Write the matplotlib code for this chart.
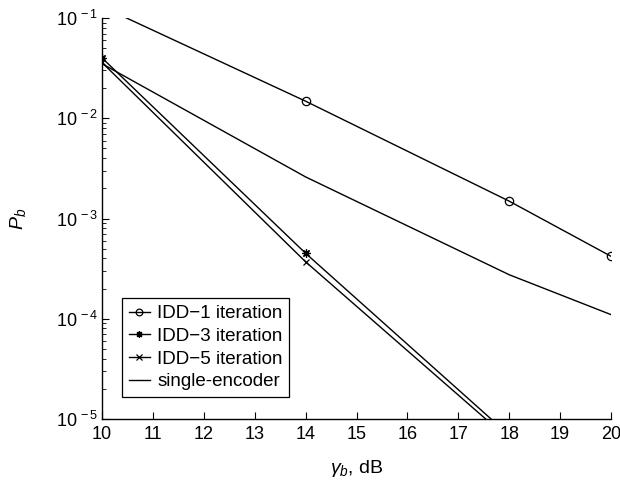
import numpy as np
import matplotlib
matplotlib.use('Agg')
import matplotlib.pyplot as plt
from matplotlib.ticker import LogLocator, NullFormatter, FuncFormatter

plt.rcParams['font.family'] = ['Liberation Sans', 'DejaVu Sans']
plt.rcParams['mathtext.fontset'] = 'custom'
plt.rcParams['mathtext.rm'] = 'Liberation Sans'
plt.rcParams['mathtext.it'] = 'Liberation Sans:italic'

# values
snr_idd1 = [10, 14, 18, 20]
pb_idd1 = [0.13, 1.48e-2, 1.49e-3, 4.2e-4]

snr_idd3 = [10, 14, 18]
pb_idd3 = [4.0e-2, 4.5e-4, 6.9e-6]

snr_idd5 = [10, 14, 18]
pb_idd5 = [3.6e-2, 3.7e-4, 6.25e-6]

snr_single = [10, 14, 18, 20]
pb_single = [3.5e-2, 2.6e-3, 2.75e-4, 1.1e-4]

labels = ['IDD\u22121 iteration', 'IDD\u22123 iteration', 'IDD\u22125 iteration', 'single-encoder']

fig = plt.figure(figsize=(6.2, 4.8), dpi=100)
ax = fig.add_axes([0.1645, 0.127, 0.821, 0.8355])

ax.semilogy(snr_idd1, pb_idd1, 'k-', marker='o', mfc='none', ms=6, mew=0.9, lw=1, label=labels[0])
ax.semilogy(snr_idd3, pb_idd3, 'k-', marker=(8, 2, 0), ms=6, mew=0.9, lw=1, label=labels[1])
ax.semilogy(snr_idd5, pb_idd5, 'k-', marker='x', ms=5, mew=0.9, lw=1, label=labels[2])
ax.semilogy(snr_single, pb_single, 'k-', lw=1, label=labels[3])

ax.set_xlim(10, 20)
ax.set_ylim(1e-5, 1e-1)
ax.set_xticks(range(10, 21))
ax.yaxis.set_major_locator(LogLocator(base=10, numticks=10))
ax.yaxis.set_minor_locator(LogLocator(base=10, subs=np.arange(2, 10), numticks=20))
ax.yaxis.set_minor_formatter(NullFormatter())
ax.yaxis.set_major_formatter(FuncFormatter(
    lambda v, p: r'$\mathregular{10^{\,%d}}$' % int(round(np.log10(v)))))

for s in ['top', 'right']:
    ax.spines[s].set_visible(False)
ax.spines['left'].set_linewidth(1)
ax.spines['bottom'].set_linewidth(1)
ax.tick_params(which='both', direction='in', labelsize=13, color='k')
ax.tick_params(which='major', length=5, pad=3)
ax.tick_params(axis='x', pad=5)
ax.tick_params(which='minor', length=3)

ax.set_xlabel(r'$\gamma_b$, dB', fontsize=14)
ax.set_ylabel(r'$P_b$', fontsize=14)
ax.xaxis.set_label_coords(0.5, -0.098)
ax.yaxis.set_label_coords(-0.145, 0.5)

leg = ax.legend(loc='lower left', bbox_to_anchor=(0.04, 0.055), fontsize=13.5,
                handlelength=1.1, handletextpad=0.4, borderpad=0.35,
                labelspacing=0.3, fancybox=False, framealpha=1,
                edgecolor='k', borderaxespad=0, markerscale=0.8)
leg.get_frame().set_linewidth(0.9)

fig.savefig('out.png', dpi=100)
